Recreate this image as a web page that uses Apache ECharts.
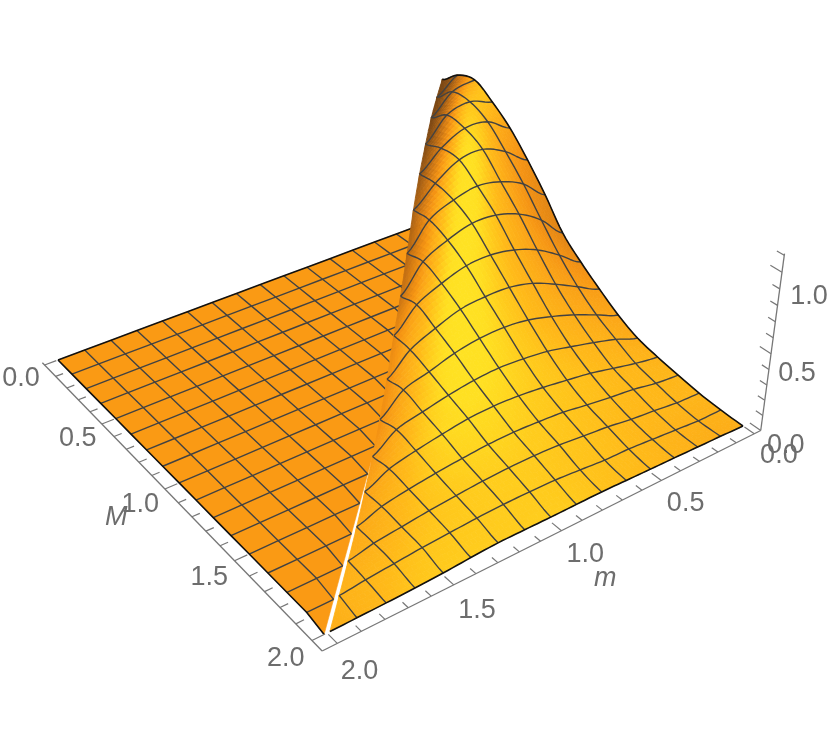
<!DOCTYPE html>
<html><head><meta charset="utf-8">
<style>html,body{margin:0;padding:0;background:#fff}#c{width:830px;height:748px}</style>
<script src="https://cdn.jsdelivr.net/npm/echarts@6/dist/echarts.min.js"></script>
</head><body><div id="c"></div>
<script>
// Surface heights: one row per mesh line of M (M = i/8), columns m = j/8 for m <= M.
// For m > M the surface is flat at zero.
const zM00=[.972];
const zM01=[1.072,.97];
const zM02=[1.107,1.079,.955];
const zM03=[1.032,1.083,1.047,.905];
const zM04=[.932,1.024,1.033,.957,.84];
const zM05=[.795,.903,.971,.957,.861,.74];
const zM06=[.64,.768,.838,.866,.832,.762,.6];
const zM07=[.465,.61,.707,.758,.763,.715,.637,.47];
const zM08=[.352,.46,.555,.615,.643,.635,.584,.51,.37];
const zM09=[.256,.334,.414,.483,.52,.523,.507,.45,.378,.25];
const zM10=[.168,.234,.30,.354,.397,.416,.411,.383,.333,.286,.16];
const zM11=[.103,.161,.207,.247,.285,.305,.315,.305,.28,.245,.205,.10];
const zM12=[.068,.094,.13,.167,.192,.215,.232,.238,.23,.205,.175,.135,.06];
const zM13=[.042,.057,.087,.106,.128,.153,.165,.172,.168,.155,.138,.115,.085,.03];
const zM14=[.018,.025,.045,.061,.086,.101,.118,.125,.125,.118,.105,.09,.07,.05,.015];
const zM15=[.005,.006,.019,.032,.045,.049,.063,.076,.08,.08,.075,.065,.055,.04,.025,.007];
const zM16=[0,.006,.011,.016,.02,.025,.03,.03,.03,.032,.033,.025,.014,.008,.004,.002,0];
const zTable=[zM00,zM01,zM02,zM03,zM04,zM05,zM06,zM07,zM08,zM09,zM10,zM11,zM12,zM13,zM14,zM15,zM16];
const axisTicks=[0,.1,.2,.3,.4,.5,.6,.7,.8,.9,1,1.1,1.2,1.3,1.4,1.5,1.6,1.7,1.8,1.9,2];
const heightTicks=[0,.1,.2,.3,.4,.5,.6,.7,.8,.9,1,1.1];
const mLabels=['0.0','0.5','1.0','1.5','2.0'];
const MLabels=['0.0','0.5','1.0','1.5','2.0'];
const heightLabels=['0.0','0.5','1.0'];

const N=16, SUB=6, GAP=.006;
const lightDir=[.1,.43,.88];
const viewR=[-.81,.587,0], viewU=[-.345,-.48,.806], viewF=[.473,.653,.591];
const zScale=.372;
const ramp=[[.3,100,58,18],[.45,130,75,20],[.65,200,115,20],[.80,245,148,20],[.867,252,168,24],[.93,255,186,25],[.965,255,205,29],[.99,255,224,34],[1,255,226,35]];
const FLAT_COLOR='rgb(250,154,20)';
const GRAY='#6d6d6d', MESH='#424242';

function project(u,v,z){
  const w=1-.11696*u-.15976*v-.0486*z;
  return [(-387.78*u+185.3*v+439-20.2*z)/w,(99.9*u+139.94*v+218-145.8*z)/w];
}
function cr(a,b,c,d,t){
  return .5*(2*b+(c-a)*t+(2*a-5*b+4*c-d)*t*t+(3*b-a-3*c+d)*t*t*t);
}
function rowVal(r,fj){
  const row=zTable[r];
  if(r===0) return row[0];
  const x=Math.min(Math.max(fj,0),r);
  const J=Math.min(Math.floor(x),r-1), t=x-J;
  return cr(row[Math.max(J-1,0)],row[J],row[J+1],row[Math.min(J+2,r)],t);
}
const rimAt=k=>zTable[Math.max(Math.min(k,N),0)][Math.max(Math.min(k,N),0)];
function surfaceZ(fi,fj){
  const I=Math.min(Math.floor(fi),N-1), t=fi-I;
  if(t<1e-9) return rowVal(I,fj);
  if(fj>I+1e-9){
    // triangular cell beside the M = m edge: blend its three edges
    const q=Math.min((fj-I)/t,1);
    const zA=zTable[I][I], zC=zTable[I+1][I], zD=zTable[I+1][I+1];
    const next=I+2<=N?zTable[I+2][I]:zC;
    const left=cr(zA,zA,zC,next,t);
    const right=cr(rimAt(I-1),zA,zD,rimAt(I+2),t);
    return left+(right-left)*q+t*(rowVal(I+1,I+q)-(zC+(zD-zC)*q));
  }
  const b=rowVal(I,fj), c=rowVal(I+1,fj);
  const a=(I>0&&fj<=I-1)?rowVal(I-1,fj):b;
  const d=(I+2<=N)?rowVal(I+2,fj):c;
  return cr(a,b,c,d,t);
}
function rimHeight(fi){
  const I=Math.min(Math.floor(fi),N-1), t=fi-I;
  return zTable[I][I]+(zTable[I+1][I+1]-zTable[I][I])*t;
}
const rawNormal=[];
function computeRaw(i,j){
  const row=zTable[i];
  let dzu=0,dzv=0;
  if(row.length>1){
    if(j===0) dzu=(row[1]-row[0])*N;
    else if(j===i) dzu=(row[j]-row[j-1])*N;
    else dzu=(row[j+1]-row[j-1])*N/2;
  }
  const has=a=>a>=0&&a<=N&&j<=a;
  if(has(i-1)&&has(i+1)) dzv=(zTable[i+1][j]-zTable[i-1][j])*N/2;
  else if(has(i+1)) dzv=(zTable[i+1][j]-zTable[i][j])*N;
  else if(has(i-1)) dzv=(zTable[i][j]-zTable[i-1][j])*N;
  return [-dzu*zScale,-dzv*zScale,1];
}
for(let i=0;i<=N;i++){rawNormal.push([]);for(let j=0;j<=i;j++)rawNormal[i].push(computeRaw(i,j));}
function nodeNormal(i,j){
  const s=rawNormal[i][j];
  const sum=[s[0]*2,s[1]*2,s[2]*2];let w=2;
  [[i-1,j],[i+1,j],[i,j-1],[i,j+1]].forEach(q=>{
    if(q[0]>=0&&q[0]<=N&&q[1]>=0&&q[1]<=q[0]){
      const m=rawNormal[q[0]][q[1]];
      sum[0]+=m[0];sum[1]+=m[1];sum[2]+=m[2];w++;
    }
  });
  return [sum[0]/w,sum[1]/w,sum[2]/w];
}
function shade(n,fi,fj){
  const d=fi-fj, r=rimHeight(fi)/.85;
  const fall=d<2.4?Math.pow(1-d/2.4,2):0;
  const nu=n[0]+1.7*r*r*fall;
  const l=Math.hypot(nu,n[1],n[2]);
  const m=[nu/l,n[1]/l,n[2]/l];
  const dot=(a,b)=>a[0]*b[0]+a[1]*b[1]+a[2]*b[2];
  const vn=[dot(viewR,m),dot(viewU,m),dot(viewF,m)];
  const L=Math.hypot(lightDir[0],lightDir[1],lightDir[2]);
  const t=dot(vn,lightDir)/L;
  for(let a=0;a<ramp.length-1;a++){
    if(t>=ramp[a][0]&&t<=ramp[a+1][0]){
      const f=(t-ramp[a][0])/(ramp[a+1][0]-ramp[a][0]);
      const c=[1,2,3].map(q=>Math.round(ramp[a][q]+f*(ramp[a+1][q]-ramp[a][q])));
      return 'rgb('+c.join(',')+')';
    }
  }
  const e=t<ramp[0][0]?ramp[0]:ramp[ramp.length-1];
  return 'rgb('+e[1]+','+e[2]+','+e[3]+')';
}
function raisedNode(i,j){
  return {u:j/N-(j===i?GAP:0),v:i/N,j:j,n:nodeNormal(i,j)};
}
function flatNode(i,j){
  return {u:j/N+(j===i?GAP:0),v:i/N};
}
const raisedCells=[],flatCells=[];
for(let i=0;i<N;i++)for(let j=0;j<N;j++){
  if(j<i) raisedCells.push([i,j,0]);
  else if(j===i){raisedCells.push([i,j,1]);flatCells.push([i,j,1]);}
  else flatCells.push([i,j,0]);
}
raisedCells.sort((a,b)=>(a[0]+a[1])-(b[0]+b[1]));

function raisedPoint(api,p){return api.coord(project(p.u,p.v,surfaceZ(p.v*N,p.j)));}
function flatPoint(api,p){return api.coord(project(p.u,p.v,0));}
function lerpNode(a,b,f){
  return {u:a.u+(b.u-a.u)*f,v:a.v+(b.v-a.v)*f,j:a.j+(b.j-a.j)*f,
    n:[a.n[0]+(b.n[0]-a.n[0])*f,a.n[1]+(b.n[1]-a.n[1])*f,a.n[2]+(b.n[2]-a.n[2])*f]};
}
function renderRaised(params,api){
  const i=api.value(0),j=api.value(1),tri=api.value(2);
  const a=raisedNode(i,j), b=tri?a:raisedNode(i,j+1),
        c=raisedNode(i+1,j), d=raisedNode(i+1,j+1);
  const children=[];
  for(let s=0;s<SUB;s++)for(let r=0;r<SUB;r++){
    const top0=lerpNode(a,b,r/SUB),top1=lerpNode(a,b,(r+1)/SUB),
          bot0=lerpNode(c,d,r/SUB),bot1=lerpNode(c,d,(r+1)/SUB);
    const p00=lerpNode(top0,bot0,s/SUB),p01=lerpNode(top1,bot1,s/SUB),
          p10=lerpNode(top0,bot0,(s+1)/SUB),p11=lerpNode(top1,bot1,(s+1)/SUB);
    const mid=lerpNode(lerpNode(p00,p11,.5),lerpNode(p01,p10,.5),.5);
    const col=shade(mid.n,mid.v*N,mid.j);
    children.push({type:'polygon',shape:{points:[raisedPoint(api,p00),raisedPoint(api,p01),raisedPoint(api,p11),raisedPoint(api,p10)]},
      style:{fill:col,stroke:col,lineWidth:.8}});
  }
  return {type:'group',children};
}
function renderFlat(params,api){
  const i=api.value(0),j=api.value(1),tri=api.value(2);
  const pts=tri?[flatNode(i,j),flatNode(i,j+1),flatNode(i+1,j+1)]
               :[flatNode(i,j),flatNode(i,j+1),flatNode(i+1,j+1),flatNode(i+1,j)];
  return {type:'polygon',shape:{points:pts.map(p=>flatPoint(api,p))},style:{fill:FLAT_COLOR,stroke:FLAT_COLOR,lineWidth:.6}};
}
function pathPoints(kind,idx,dir,api){
  const out=[];
  if(kind==='raised'){
    if(dir==='M'){
      for(let j=0;j<idx;j++){const a=raisedNode(idx,j),b=raisedNode(idx,j+1);
        for(let s=0;s<SUB;s++)out.push(raisedPoint(api,lerpNode(a,b,s/SUB)));}
      if(idx>0)out.push(raisedPoint(api,raisedNode(idx,idx)));
    }else{
      for(let i=idx;i<N;i++){const a=raisedNode(i,idx),b=raisedNode(i+1,idx);
        for(let s=0;s<SUB;s++)out.push(raisedPoint(api,lerpNode(a,b,s/SUB)));}
      out.push(raisedPoint(api,raisedNode(N,idx)));
    }
  }else{
    if(dir==='M'){for(let j=idx;j<=N;j++)out.push(flatPoint(api,flatNode(idx,j)));}
    else{for(let i=0;i<=idx;i++)out.push(flatPoint(api,flatNode(i,idx)));}
  }
  return out;
}
function meshSeries(kind,items,z){
  return {type:'custom',coordinateSystem:'cartesian2d',silent:true,animation:false,clip:false,z,
    data:items,
    renderItem(params,api){
      const idx=api.value(0),dir=api.value(1)?'M':'m',outline=api.value(2);
      return {type:'polyline',shape:{points:pathPoints(kind,idx,dir,api)},
        style:{fill:'none',stroke:outline?'#111':MESH,lineWidth:outline?1.6:1.4,lineJoin:'round'}};
    }};
}
const meshItems=[];
for(let k=1;k<N;k++){meshItems.push([k,1,0]);meshItems.push([k,0,0]);}

const axisSegs=[];
axisTicks.forEach(t=>{axisSegs.push([0,t]);axisSegs.push([1,t]);});
heightTicks.forEach(t=>axisSegs.push([2,t]));
const uOut=1.031,vOut=1.031,uIn=-.018,vStart=-.01,zTop=1.11;
function isMajor(t){return Math.abs(t*2-Math.round(t*2))<1e-6;}
function tickEnds(a,t){
  const len=isMajor(t)?.027:.017;
  if(a===0)return [project(uOut,t/2,0),project(uOut-len,t/2,0)];
  if(a===1)return [project(t/2,vOut,0),project(t/2,vOut-len,0)];
  return [project(uIn,vOut,t),project(uIn,vOut-len*1.1,t)];
}
const axisLines=[[project(uOut,vStart,0),project(uOut,vOut,0)],
                 [project(uOut,vOut,0),project(uIn,vOut,0)],
                 [project(uIn,vOut,0),project(uIn,vOut,zTop)]];

const labelItems=[];
MLabels.forEach(s=>{const p=project(1.08,parseFloat(s)/2,0);labelItems.push([p[0]-2,p[1]+6,s,'normal']);});
mLabels.forEach(s=>{const p=project(parseFloat(s)/2,1.1,0);labelItems.push([p[0]-1,p[1]+4,s,'normal']);});
heightLabels.forEach(s=>{const z=parseFloat(s);const p=project(uIn,vOut,z);labelItems.push([p[0]+25+2*z,p[1]+15+9*z,s,'normal']);});
(function(){
  const a=project(1.08,.5,0);labelItems.push([a[0]-26,a[1]+19,'M','italic']);
  const b=project(.5,1.1,0);labelItems.push([b[0]+19,b[1]+28,'m','italic']);
})();

const chart=echarts.init(document.getElementById('c'),null,{renderer:'canvas'});
chart.setOption({
  animation:false,
  backgroundColor:'#fff',
  grid:{left:0,right:0,top:0,bottom:0},
  xAxis:{type:'value',min:0,max:830,show:false},
  yAxis:{type:'value',min:0,max:748,inverse:true,show:false},
  series:[
    {type:'custom',coordinateSystem:'cartesian2d',silent:true,animation:false,clip:false,z:1,
      data:flatCells,renderItem:renderFlat},
    meshSeries('flat',meshItems,2),
    meshSeries('flat',[[0,1,1],[N,0,1],[N,1,1]],3),
    {type:'custom',coordinateSystem:'cartesian2d',silent:true,animation:false,clip:false,z:4,
      data:raisedCells,renderItem:renderRaised},
    meshSeries('raised',meshItems,5),
    meshSeries('raised',[[0,0,1],[N,1,1]],6),
    {type:'custom',coordinateSystem:'cartesian2d',silent:true,animation:false,clip:false,z:7,
      data:axisSegs,
      renderItem(params,api){
        const e=tickEnds(api.value(0),api.value(1));
        const p=api.coord(e[0]),q=api.coord(e[1]);
        return {type:'line',shape:{x1:p[0],y1:p[1],x2:q[0],y2:q[1]},style:{stroke:'#777',lineWidth:1.2}};
      }},
    {type:'custom',coordinateSystem:'cartesian2d',silent:true,animation:false,clip:false,z:7,
      data:[[0],[1],[2]],
      renderItem(params,api){
        const l=axisLines[api.value(0)];
        return {type:'polyline',shape:{points:l.map(p=>api.coord(p))},style:{fill:'none',stroke:'#777',lineWidth:1.3}};
      }},
    {type:'custom',coordinateSystem:'cartesian2d',silent:true,animation:false,clip:false,z:8,
      data:labelItems.map(d=>[d[0],d[1]]),
      renderItem(params,api){
        const d=labelItems[params.dataIndex];
        const c=api.coord([d[0],d[1]]);
        return {type:'text',x:c[0],y:c[1],style:{text:d[2],fontFamily:'"Liberation Sans",Arial,sans-serif',
          fontSize:27,fontStyle:d[3],fill:GRAY,align:'center',verticalAlign:'middle'}};
      }}
  ]
});
</script></body></html>
